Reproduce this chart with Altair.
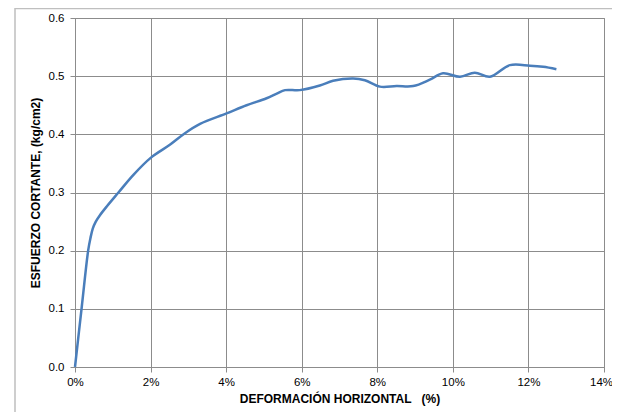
import altair as alt
import pandas as pd

# Horizontal deformation (%) and shear stress (kg/cm2)
deformacion = [0.0, 0.18, 0.35, 0.41, 0.47, 0.55, 0.66, 0.84, 1.15, 1.54, 2.01, 2.51, 2.91, 3.31,
               4.01, 4.54, 5.07, 5.34, 5.56, 5.95, 6.48, 6.83, 7.36, 7.67, 8.07,
               8.51, 8.95, 9.39, 9.74, 10.19, 10.58, 10.98, 11.51, 12.04, 12.39, 12.74]
esfuerzo = [0.0, 0.104, 0.201, 0.222, 0.238, 0.250, 0.261, 0.276, 0.300, 0.330, 0.360, 0.382, 0.402, 0.418,
            0.436, 0.450, 0.462, 0.470, 0.476, 0.476, 0.484, 0.492, 0.496, 0.493, 0.482,
            0.483, 0.483, 0.494, 0.505, 0.499, 0.506, 0.499, 0.519, 0.518, 0.516, 0.512]

x_ticks = [0, 2, 4, 6, 8, 10, 12, 14]
y_ticks = [0.0, 0.1, 0.2, 0.3, 0.4, 0.5, 0.6]

df = pd.DataFrame({"def": deformacion, "esf": esfuerzo})

FONT = "Liberation Sans"

line = alt.Chart(df).mark_line(
    color="#4a7ebb", strokeWidth=2.5, interpolate="catmull-rom"
).encode(
    x=alt.X("def:Q",
            scale=alt.Scale(domain=[0, 14], nice=False),
            axis=alt.Axis(values=x_ticks, labelExpr="datum.value + '%'",
                          labelFlush=False, labelOverlap=False, labelPadding=4,
                          labelOffset={"condition": {"test": "datum.value == 14", "value": -3},
                                       "value": 0},
                          title="DEFORMACIÓN HORIZONTAL\u00a0\u00a0\u00a0(%)",
                          titleFontWeight="bold", titleFontSize=12,
                          titlePadding=6)),
    y=alt.Y("esf:Q",
            scale=alt.Scale(domain=[0, 0.6], nice=False),
            axis=alt.Axis(values=y_ticks, format=".1f",
                          labelFlush=False, labelOverlap=False, labelPadding=6,
                          title="ESFUERZO CORTANTE, (kg/cm2)",
                          titleFontWeight="bold", titleFontSize=12,
                          titlePadding=6)),
)

frame = alt.Chart(pd.DataFrame({"a": [0]})).mark_rect(
    fill=None, stroke="#bfbfbf", strokeWidth=1.5
).encode(
    x=alt.value(-60), x2=alt.value(570),
    y=alt.value(-9.5), y2=alt.value(410),
)

chart = alt.layer(frame, line).properties(
    width=529, height=349,
    autosize=alt.AutoSizeParams(type="none"),
    padding={"left": 67, "top": 10, "right": 8, "bottom": 45},
).configure_view(
    stroke="#8c8c8c", strokeWidth=1
).configure_axis(
    labelFont=FONT, titleFont=FONT, labelFontSize=11.5, labelColor="#000000",
    titleColor="#000000", grid=True, gridColor="#8c8c8c", gridWidth=1,
    domainColor="#8c8c8c", tickColor="#8c8c8c", tickSize=5,
)

chart.save("out.html", embed_options={"renderer": "svg", "actions": False})
